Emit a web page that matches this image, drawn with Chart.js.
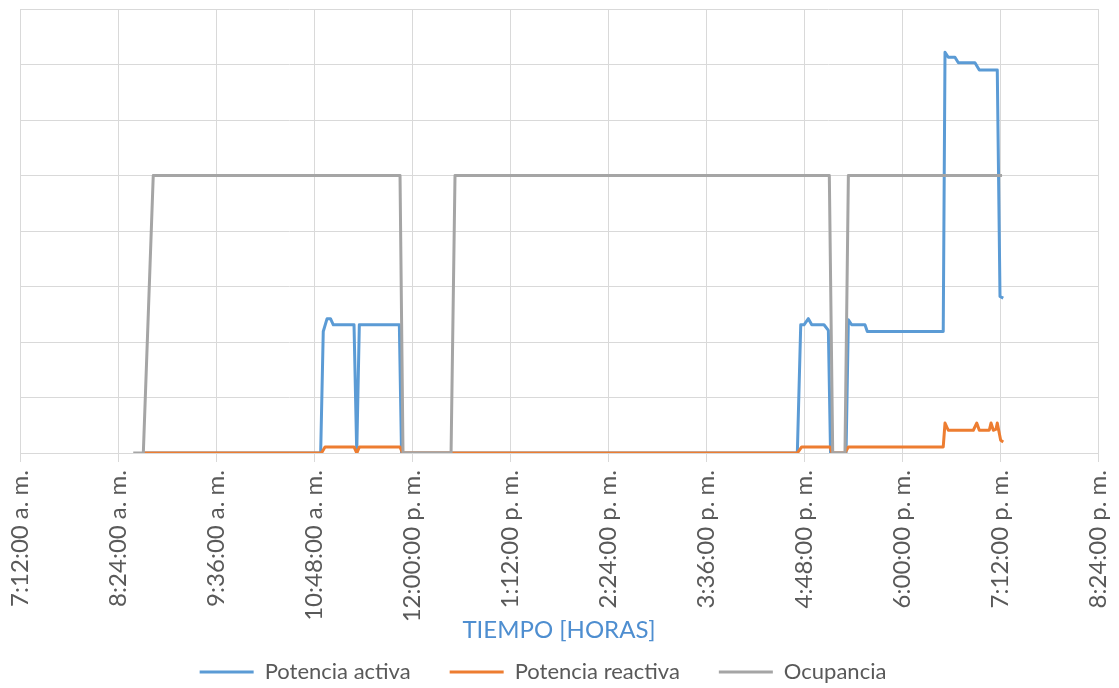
<!DOCTYPE html>
<html lang="es">

<head>
    <meta charset="UTF-8">
    <title>Potencia y ocupancia</title>
    <script src="https://cdn.jsdelivr.net/npm/chart.js"></script>
    <style>
        body { margin: 0; background: #fff; }
        #contenedor { width: 1119px; height: 688px; }
    </style>
</head>

<body>

    <div id="contenedor">
        <canvas id="graficoPotencia"></canvas>
    </div>

</body>

<script>

    // tiempos en minutos desde medianoche
    const tiempoActiva = [522.6, 652.9, 654.8, 657.6, 660.1, 662.2, 677.4, 679.4, 681.3, 710.7,
        712.3, 1003.1, 1005.6, 1008.0, 1011.2, 1013.7, 1022.7, 1025.9, 1027.5, 1038.9,
        1040.6, 1043.0, 1052.8, 1054.5, 1110.3, 1111.6, 1114.0, 1118.9, 1121.4, 1133.6,
        1136.8, 1150.0, 1152.0, 1154.4];
    const potenciaActiva = [0, 0, 219, 242, 242, 231, 231, 0, 231, 231,
        0, 0, 231, 231, 242, 231, 231, 221, 0, 0,
        240, 231, 231, 219, 219, 722, 713, 713, 703, 703,
        690, 690, 282, 279];

    const tiempoReactiva = [522.6, 653.5, 656.1, 677.4, 679.4, 681.4, 711.2, 713.0, 1003.1, 1006.3,
        1027.1, 1028.6, 1038.1, 1040.6, 1110.3, 1111.6, 1114.0, 1132.4, 1134.9, 1136.8,
        1144.1, 1145.4, 1147.1, 1149.1, 1150.0, 1152.5, 1154.4];
    const potenciaReactiva = [0, 0, 11, 11, 0, 11, 11, 0, 0, 11,
        11, 0, 0, 11, 11, 54, 41, 41, 54, 41,
        41, 54, 41, 43, 54, 23, 20];

    const tiempoOcupancia = [515.2, 522.6, 529.9, 711.2, 713.4, 748.7, 751.6, 1026.6, 1029.1, 1038.1, 1040.6, 1153.5];
    const ocupancia = [0, 0, 500, 500, 0, 0, 500, 500, 0, 0, 500, 500];

    // eje x: 7:12 a. m. a 8:24 p. m., cada 72 minutos
    const inicioEje = 432;
    const finEje = 1224;
    const pasoEje = 72;

    function formatoHora(minutos) {
        var h = Math.floor(minutos / 60);
        var m = Math.round(minutos % 60);
        var sufijo = h >= 12 ? 'p. m.' : 'a. m.';
        var h12 = h % 12;
        if (h12 === 0) h12 = 12;
        return h12 + ':' + String(m).padStart(2, '0') + ':00 ' + sufijo;
    }

    function puntos(tiempos, valores) {
        var lista = [];
        for (var i = 0; i < tiempos.length; i++) {
            lista.push({ x: tiempos[i], y: valores[i] });
        }
        return lista;
    }

    const fuente = 'Lato, "Open Sans", sans-serif';

    // corre la leyenda un poco a la izquierda como en la original
    const moverLeyenda = {
        id: 'moverLeyenda',
        afterLayout(chart) {
            chart.legend.left -= 16;
            chart.legend.right -= 16;
        }
    };

    const config = {
        type: 'line',
        data: {
            datasets: [{
                label: 'Potencia activa',
                data: puntos(tiempoActiva, potenciaActiva),
                borderColor: '#5B9BD5',
                backgroundColor: '#5B9BD5',
                borderWidth: 3,
                order: 3
            }, {
                label: 'Potencia reactiva',
                data: puntos(tiempoReactiva, potenciaReactiva),
                borderColor: '#ED7D31',
                backgroundColor: '#ED7D31',
                borderWidth: 3,
                order: 2
            }, {
                label: 'Ocupancia',
                data: puntos(tiempoOcupancia, ocupancia),
                borderColor: '#A5A5A5',
                backgroundColor: '#A5A5A5',
                borderWidth: 3,
                order: 1
            }]
        },
        options: {
            responsive: true,
            maintainAspectRatio: false,
            animation: false,
            elements: {
                point: { radius: 0 },
                line: { tension: 0, borderJoinStyle: 'round', fill: false }
            },
            layout: {
                padding: { top: 9, left: 20, right: 21, bottom: -5 }
            },
            scales: {
                x: {
                    type: 'linear',
                    min: inicioEje,
                    max: finEje,
                    ticks: {
                        stepSize: pasoEje,
                        autoSkip: false,
                        minRotation: 90,
                        maxRotation: 90,
                        padding: 8,
                        color: '#595959',
                        font: { family: fuente, size: 24 },
                        callback: function (valor) { return formatoHora(valor); }
                    },
                    grid: { color: '#d9d9d9', tickColor: '#d9d9d9', tickLength: 9 },
                    border: { color: '#d9d9d9' },
                    title: {
                        display: true,
                        text: 'TIEMPO [HORAS]',
                        color: '#4e8ed0',
                        font: { family: fuente, size: 24, lineHeight: 1 },
                        padding: { top: 0, bottom: -20 }
                    },
                    afterFit: function (eje) {
                        eje.height = 169;
                        eje.paddingLeft = 0;
                        eje.paddingRight = 0;
                    }
                },
                y: {
                    min: 0,
                    max: 800,
                    ticks: { stepSize: 100, display: false },
                    grid: { color: '#d9d9d9', drawTicks: false },
                    border: { display: false }
                }
            },
            plugins: {
                tooltip: { enabled: false },
                legend: {
                    position: 'bottom',
                    labels: {
                        usePointStyle: true,
                        pointStyle: 'line',
                        pointStyleWidth: 54,
                        padding: 39,
                        color: '#595959',
                        font: { family: fuente, size: 22 },
                        sort: function (a, b) { return a.datasetIndex - b.datasetIndex; }
                    }
                }
            }
        },
        plugins: [moverLeyenda]
    };

    let grafico = new Chart(
        document.getElementById('graficoPotencia'),
        config
    );
</script>

</html>
